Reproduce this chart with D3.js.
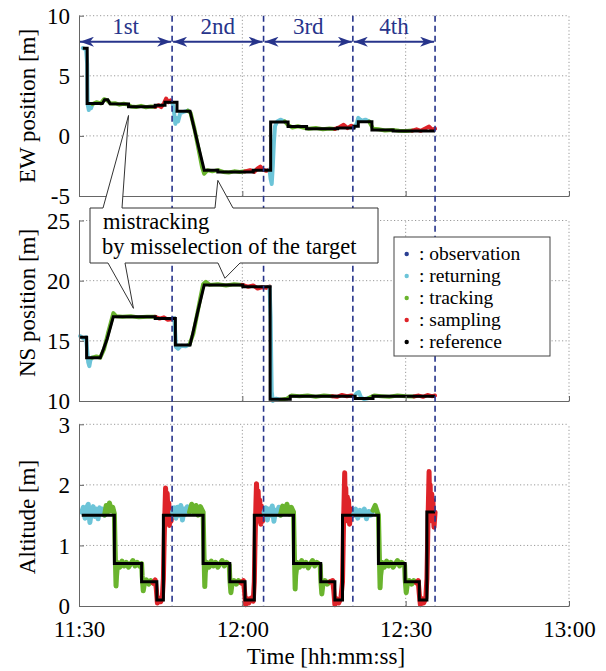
<!DOCTYPE html>
<html>
<head>
<meta charset="utf-8">
<script src="https://cdn.jsdelivr.net/npm/d3@7"></script>
<style>
  body { margin: 0; background: #fff; }
</style>
</head>
<body>
<script>
// time is minutes after 11:30
const xTicks = ["11:30", "12:00", "12:30", "13:00"];
const ewTicks = [-5, 0, 5, 10];
const nsTicks = [10, 15, 20, 25];
const altTicks = [0, 1, 2, 3];

const sessionLabels = ["1st", "2nd", "3rd", "4th"];
const sessionBounds = [0, 17.1, 33.9, 50.3, 65.4];

const legendItems = ["observation", "returning", "tracking", "sampling", "reference"];
const phaseColor = {
  observation: "#2b3f93",
  returning: "#6cc4d8",
  tracking: "#6ab42e",
  sampling: "#de2329",
  reference: "#000000"
};

// reference trajectories
const ewRef = [[0.7,7.3],[1.5,7.3],[1.5,2.7],[4.3,2.7],[4.7,3.0],[5.3,3.0],[5.7,2.68],[9.1,2.65],[9.1,2.42],[14.0,2.42],[14.0,2.55],[15.8,2.55],[15.8,2.8],[18.0,2.8],[18.0,2.06],[20.4,2.06],[23.0,-2.85],[25.5,-2.85],[25.5,-3.0],[32.0,-3.0],[32.0,-2.85],[35.2,-2.85],[35.2,1.15],[38.4,1.15],[38.4,0.78],[41.8,0.78],[41.8,0.6],[47.5,0.6],[47.5,0.65],[50.5,0.65],[50.5,0.8],[51.3,0.8],[51.3,1.17],[53.8,1.17],[53.8,0.5],[57.7,0.5],[57.7,0.4],[65.4,0.4]];
const nsRef = [[0.2,15.3],[1.4,15.3],[1.4,13.6],[3.9,13.6],[5.2,15.2],[6.3,17.0],[14.0,17.0],[14.0,16.85],[17.7,16.85],[17.7,14.65],[20.4,14.65],[21.8,17.4],[23.0,19.65],[30.1,19.65],[30.1,19.5],[35.1,19.5],[35.1,10.15],[38.8,10.15],[38.8,10.4],[50.7,10.4],[50.7,10.2],[54.0,10.2],[54.0,10.4],[65.4,10.4]];
const altRef = [[0.5,1.5],[6.5,1.5],[6.5,0.7],[11.5,0.7],[11.5,0.4],[14.3,0.4],[14.3,0.1],[15.5,0.1],[15.5,1.5],[22.8,1.5],[22.8,0.7],[27.7,0.7],[27.7,0.4],[30.5,0.4],[30.5,0.1],[32.2,0.1],[32.2,1.5],[39.4,1.5],[39.4,0.7],[44.4,0.7],[44.4,0.4],[47.0,0.4],[47.0,0.1],[48.4,0.1],[48.4,1.5],[55.0,1.5],[55.0,0.7],[59.9,0.7],[59.9,0.4],[62.5,0.4],[62.5,0.1],[63.9,0.1],[63.9,1.55],[65.4,1.55]];

// measured point clouds, by phase
const ewClouds = [
  ["returning", [[0.7,7.3],[1.3,7.2],[1.5,6.0],[1.55,4.0],[1.6,2.6],[1.8,2.15],[2.0,2.5],[2.2,2.3],[2.5,2.65]]],
  ["tracking", [[2.5,2.65],[3.2,2.8],[4.0,2.7],[4.6,3.05],[5.2,2.95],[5.8,2.7],[6.6,2.72],[7.4,2.6],[8.2,2.68],[9.0,2.6],[9.6,2.45],[10.5,2.4],[11.4,2.5],[12.3,2.38],[13.2,2.45],[14.0,2.42]]],
  ["sampling", [[14.0,2.42],[14.6,2.55],[15.1,2.4],[15.6,2.7],[16.0,3.1],[16.4,2.8],[16.8,2.95],[17.2,2.7]]],
  ["returning", [[17.2,2.7],[17.5,1.8],[17.7,1.0],[17.9,1.5],[18.2,1.2],[18.6,1.9],[19.2,2.0],[20.0,2.1]]],
  ["tracking", [[20.0,2.1],[20.5,1.9],[21.2,0.6],[22.0,-1.2],[22.6,-2.6],[23.0,-3.15],[23.6,-2.85],[24.5,-2.95],[25.5,-2.85],[26.5,-3.0],[27.5,-3.05],[28.5,-2.95],[29.5,-3.0],[30.5,-2.95]]],
  ["sampling", [[30.5,-2.95],[31.4,-2.85],[32.2,-3.0],[32.8,-2.7],[33.3,-2.55],[33.8,-2.8],[34.4,-2.9],[35.0,-2.8]]],
  ["returning", [[35.0,-2.8],[35.2,-3.6],[35.4,-4.0],[35.6,-2.5],[35.8,-0.5],[36.0,0.8],[36.4,1.2],[37.0,1.35],[37.8,1.2]]],
  ["tracking", [[37.8,1.2],[38.4,0.9],[39.2,0.7],[40.2,0.8],[41.2,0.7],[42.2,0.6],[43.5,0.65],[44.8,0.55],[46.0,0.62],[47.0,0.58]]],
  ["sampling", [[47.0,0.58],[47.8,0.72],[48.6,0.92],[49.3,0.65],[50.0,0.85],[50.5,0.7]]],
  ["returning", [[50.5,0.7],[51.0,1.0],[51.3,1.5],[51.9,1.25],[52.6,1.35],[53.3,1.2]]],
  ["tracking", [[53.3,1.2],[54.0,0.6],[55.0,0.55],[56.2,0.45],[57.5,0.5],[58.8,0.42],[60.0,0.4],[61.2,0.44]]],
  ["sampling", [[61.2,0.44],[62.0,0.55],[62.8,0.42],[63.6,0.62],[64.3,0.78],[64.9,0.5],[65.4,0.6]]]
];
const nsClouds = [
  ["returning", [[0.2,15.4],[0.8,15.2],[1.3,15.3],[1.5,14.2],[1.7,13.2],[1.9,12.9],[2.1,13.4],[2.4,13.6]]],
  ["tracking", [[2.4,13.6],[3.2,13.7],[3.9,13.6],[4.6,14.3],[5.3,15.6],[5.9,16.6],[6.3,17.3],[6.8,17.05],[8.0,17.0],[9.5,17.05],[11.0,16.95],[12.5,17.0],[14.0,17.0]]],
  ["sampling", [[14.0,17.0],[14.8,16.85],[15.6,16.95],[16.3,16.75],[17.0,16.8],[17.5,16.9]]],
  ["returning", [[17.5,16.9],[17.7,15.5],[17.8,14.5],[18.2,14.35],[18.8,14.6],[19.6,14.55],[20.3,14.7]]],
  ["tracking", [[20.3,14.7],[21.0,15.6],[21.7,17.2],[22.3,18.6],[22.8,19.7],[23.3,19.9],[24.0,19.65],[25.5,19.7],[27.0,19.6],[28.5,19.7],[30.0,19.65]]],
  ["sampling", [[30.0,19.65],[31.0,19.5],[32.0,19.6],[32.8,19.35],[33.6,19.45],[34.4,19.4],[35.0,19.5]]],
  ["returning", [[35.0,19.5],[35.2,17.0],[35.3,13.5],[35.4,10.8],[35.6,10.0],[36.2,10.2],[37.0,10.1]]],
  ["tracking", [[37.0,10.1],[38.2,10.2],[39.0,10.45],[40.5,10.4],[42.0,10.45],[43.5,10.35],[45.0,10.45],[46.5,10.4]]],
  ["sampling", [[46.5,10.4],[47.4,10.35],[48.3,10.5],[49.2,10.4],[50.0,10.45],[50.6,10.4]]],
  ["returning", [[50.6,10.4],[51.0,10.65],[51.4,10.75],[51.8,10.3],[52.4,10.15],[53.2,10.25]]],
  ["tracking", [[53.2,10.25],[54.2,10.45],[55.5,10.4],[57.0,10.35],[58.5,10.45],[60.0,10.4],[61.5,10.38]]],
  ["sampling", [[61.5,10.38],[62.4,10.45],[63.2,10.35],[64.0,10.5],[64.8,10.4],[65.4,10.45]]]
];
const altClouds = [
  ["returning", [[0.5,1.55],[0.8,1.63],[1.1,1.45],[1.4,1.62],[1.7,1.68],[2.0,1.38],[2.3,1.58],[2.6,1.64],[2.9,1.48],[3.2,1.6],[3.5,1.44],[3.8,1.62],[4.1,1.53],[4.4,1.6],[4.7,1.5]]],
  ["tracking", [[4.7,1.5],[5.0,1.66],[5.3,1.55],[5.6,1.7],[5.9,1.57],[6.2,1.63],[6.5,1.52],[6.6,1.1],[6.7,0.7],[6.8,0.33],[6.9,0.5],[7.1,0.72],[7.5,0.64],[7.9,0.74],[8.3,0.66],[8.7,0.72],[9.1,0.64],[9.5,0.7],[9.9,0.75],[10.3,0.66],[10.7,0.72],[11.1,0.66],[11.5,0.7],[11.6,0.5],[11.8,0.25],[12.0,0.36],[12.4,0.43],[12.8,0.36],[13.2,0.42],[13.6,0.38]]],
  ["sampling", [[13.6,0.38],[14.0,0.43],[14.2,0.28],[14.4,0.05],[14.7,0.13],[15.0,0.07],[15.3,0.14],[15.5,0.45],[15.6,0.9],[15.7,1.3],[15.8,1.62],[15.9,1.95],[16.1,1.55],[16.2,1.86],[16.4,1.4],[16.5,1.7],[16.6,1.33],[16.8,1.6],[16.9,1.4],[17.2,1.55]]],
  ["returning", [[17.2,1.55],[17.5,1.62],[17.8,1.45],[18.1,1.63],[18.4,1.5],[18.7,1.66],[19.0,1.42],[19.3,1.6],[19.6,1.52],[19.9,1.64],[20.3,1.55]]],
  ["tracking", [[20.3,1.55],[20.7,1.68],[21.1,1.55],[21.5,1.66],[21.9,1.5],[22.3,1.64],[22.8,1.55],[22.9,1.1],[23.0,0.7],[23.1,0.32],[23.2,0.55],[23.5,0.72],[23.9,0.64],[24.3,0.74],[24.7,0.66],[25.1,0.72],[25.5,0.64],[25.9,0.7],[26.3,0.75],[26.7,0.66],[27.1,0.72],[27.6,0.68],[27.7,0.45],[27.9,0.22],[28.1,0.36],[28.5,0.42],[28.9,0.36],[29.3,0.42],[29.8,0.38]]],
  ["sampling", [[29.8,0.38],[30.2,0.42],[30.4,0.25],[30.6,0.02],[30.9,0.12],[31.2,0.05],[31.6,0.13],[32.0,0.08],[32.2,0.4],[32.3,0.9],[32.4,1.3],[32.5,1.7],[32.6,2.02],[32.8,1.6],[32.9,1.9],[33.1,1.4],[33.2,1.75],[33.4,1.35],[33.5,1.65],[33.7,1.4],[34.0,1.55]]],
  ["returning", [[34.0,1.55],[34.3,1.62],[34.6,1.42],[34.9,1.6],[35.2,1.5],[35.5,1.65],[35.8,1.4],[36.1,1.58],[36.4,1.52],[36.7,1.63],[37.0,1.5]]],
  ["tracking", [[37.0,1.5],[37.4,1.65],[37.8,1.55],[38.2,1.68],[38.6,1.52],[39.0,1.63],[39.4,1.55],[39.5,1.1],[39.6,0.7],[39.7,0.28],[39.8,0.5],[40.1,0.72],[40.5,0.64],[40.9,0.75],[41.3,0.66],[41.7,0.72],[42.1,0.63],[42.5,0.7],[42.9,0.75],[43.3,0.66],[43.7,0.72],[44.3,0.68],[44.4,0.45],[44.6,0.2],[44.8,0.36],[45.2,0.42],[45.6,0.36],[46.1,0.4]]],
  ["sampling", [[46.1,0.4],[46.6,0.42],[46.8,0.25],[47.0,0.02],[47.3,0.12],[47.7,0.05],[48.1,0.13],[48.4,0.4],[48.5,0.9],[48.6,1.4],[48.7,1.8],[48.8,2.2],[48.9,1.7],[49.0,1.95],[49.1,1.5],[49.3,1.8],[49.4,1.4],[49.5,1.75],[49.7,1.35],[50.0,1.6],[50.4,1.5]]],
  ["returning", [[50.4,1.5],[50.8,1.6],[51.2,1.45],[51.6,1.58],[52.0,1.5],[52.4,1.6],[52.8,1.44],[53.2,1.56],[53.6,1.5],[54.0,1.58]]],
  ["tracking", [[54.0,1.58],[54.4,1.66],[54.8,1.55],[55.0,1.5],[55.1,1.1],[55.2,0.7],[55.3,0.3],[55.4,0.5],[55.7,0.72],[56.1,0.64],[56.5,0.74],[56.9,0.66],[57.3,0.72],[57.7,0.64],[58.1,0.7],[58.5,0.75],[58.9,0.66],[59.3,0.72],[59.8,0.68],[59.9,0.45],[60.1,0.22],[60.3,0.36],[60.7,0.42],[61.1,0.36],[61.5,0.42],[62.0,0.38]]],
  ["sampling", [[62.0,0.38],[62.3,0.42],[62.5,0.2],[62.7,0.02],[63.0,0.12],[63.3,0.05],[63.7,0.13],[63.9,0.45],[64.0,0.9],[64.1,1.4],[64.2,1.8],[64.3,2.22],[64.4,1.7],[64.5,2.0],[64.6,1.5],[64.8,1.85],[64.9,1.4],[65.0,1.75],[65.2,1.3],[65.4,1.55]]]
];

const width = 606, height = 671;
const left = 79, right = 569;
const navy = "#27348b";
const axisColor = "#666";
const fontSize = 23;
const serif = "'Liberation Serif', 'Times New Roman', 'DejaVu Serif', serif";

const svg = d3.select("body").append("svg")
  .attr("width", width)
  .attr("height", height)
  .attr("font-family", serif);

const day = "2000-01-01T";
const t0 = new Date(day + xTicks[0] + ":00");
const toDate = (m) => new Date(t0.getTime() + m * 60000);
const x = d3.scaleTime()
  .domain([t0, new Date(day + xTicks[xTicks.length - 1] + ":00")])
  .range([left, right]);
const xm = (m) => x(toDate(m));
const xTickDates = xTicks.map((s) => new Date(day + s + ":00"));

const panels = [
  { label: "EW position [m]", ticks: ewTicks, px: [196, 15.7], ref: ewRef, clouds: ewClouds, labelY: 106, cloudW: 4 },
  { label: "NS position [m]", ticks: nsTicks, px: [401, 220.5], ref: nsRef, clouds: nsClouds, labelY: 303, cloudW: 4 },
  { label: "Altitude [m]", ticks: altTicks, px: [606, 424.3], ref: altRef, clouds: altClouds, labelY: 517, cloudW: 5 }
];

panels.forEach((p, i) => {
  p.y = d3.scaleLinear().domain(d3.extent(p.ticks)).range(p.px);
  const g = svg.append("g");

  // dotted grid
  g.selectAll(".hgrid")
    .data(p.ticks.slice(1))
    .join("line")
    .attr("x1", left).attr("x2", right)
    .attr("y1", (d) => p.y(d)).attr("y2", (d) => p.y(d))
    .attr("stroke", "#9a9a9a")
    .attr("stroke-dasharray", "1.2,2.3");
  g.selectAll(".vgrid")
    .data(xTickDates.slice(1))
    .join("line")
    .attr("x1", (d) => x(d)).attr("x2", (d) => x(d))
    .attr("y1", p.px[0]).attr("y2", p.px[1])
    .attr("stroke", "#9a9a9a")
    .attr("stroke-dasharray", "1.2,2.3");

  const line = d3.line().x((d) => xm(d[0])).y((d) => p.y(d[1]));

  g.selectAll(".cloud")
    .data(p.clouds)
    .join("path")
    .attr("d", (d) => line(d[1]))
    .attr("fill", "none")
    .attr("stroke", (d) => phaseColor[d[0]])
    .attr("stroke-width", p.cloudW)
    .attr("stroke-linejoin", "round")
    .attr("stroke-linecap", "round");

  g.append("path")
    .attr("d", line(p.ref))
    .attr("fill", "none")
    .attr("stroke", phaseColor.reference)
    .attr("stroke-width", 3)
    .attr("stroke-linejoin", "miter");

  // axes with inward ticks
  const ay = g.append("g")
    .attr("transform", `translate(${left},0)`)
    .call(d3.axisLeft(p.y).tickValues(p.ticks).tickFormat((d) => String(d))
      .tickSizeInner(-5).tickSizeOuter(0).tickPadding(9));
  const ax = g.append("g")
    .attr("transform", `translate(0,${p.px[0]})`)
    .call(d3.axisBottom(x).tickValues(xTickDates).tickSizeInner(-5).tickSizeOuter(0).tickPadding(15)
      .tickFormat(i === 2 ? d3.timeFormat("%H:%M") : () => ""));
  [ay, ax].forEach((a) => {
    a.attr("font-family", serif).attr("font-size", fontSize);
    a.selectAll("path, line").attr("stroke", axisColor);
    a.selectAll("text").attr("fill", "#000");
  });
  ay.selectAll("text").attr("dy", "0.34em");

  svg.append("text")
    .attr("transform", `translate(35,${p.labelY}) rotate(-90)`)
    .attr("text-anchor", "middle")
    .attr("font-size", fontSize)
    .text(p.label);
});

// session boundaries
svg.selectAll(".session")
  .data(sessionBounds.slice(1))
  .join("line")
  .attr("x1", (d) => xm(d)).attr("x2", (d) => xm(d))
  .attr("y1", panels[0].px[1]).attr("y2", panels[2].px[0])
  .attr("stroke", navy)
  .attr("stroke-width", 1.6)
  .attr("stroke-dasharray", "6,4");

svg.append("defs").append("marker")
  .attr("id", "head")
  .attr("markerUnits", "userSpaceOnUse")
  .attr("viewBox", "0 0 14 10")
  .attr("refX", 14).attr("refY", 5)
  .attr("markerWidth", 14).attr("markerHeight", 10)
  .attr("orient", "auto-start-reverse")
  .append("path")
  .attr("d", "M0,0 L14,5 L0,10 L4,5 Z")
  .attr("fill", navy);

const arrowY = 41.7;
const spans = sessionLabels.map((s, i) => ({ label: s, a: sessionBounds[i], b: sessionBounds[i + 1] }));
svg.selectAll(".span")
  .data(spans)
  .join("line")
  .attr("x1", (d) => xm(d.a) + 1).attr("x2", (d) => xm(d.b) - 1)
  .attr("y1", arrowY).attr("y2", arrowY)
  .attr("stroke", navy)
  .attr("stroke-width", 2)
  .attr("marker-start", "url(#head)")
  .attr("marker-end", "url(#head)");
svg.selectAll(".spanlabel")
  .data(spans)
  .join("text")
  .attr("x", (d) => (xm(d.a) + xm(d.b)) / 2)
  .attr("y", 34)
  .attr("text-anchor", "middle")
  .attr("font-size", fontSize)
  .attr("fill", navy)
  .text((d) => d.label);

// callout
const yEW = panels[0].y, yNS = panels[1].y;
const bx0 = 90, bx1 = 378, by0 = 208, by1 = 263;
const callout = [
  [bx0, by0], [103, by0], [xm(9.1), yEW(1.7)], [122, by0],
  [215, by0], [xm(25.5), yEW(-3.7)], [233, by0],
  [bx1, by0], [bx1, by1],
  [240, by1], [xm(26.8), yNS(20.2)], [218, by1],
  [125, by1], [xm(10), yNS(17.7)], [108, by1],
  [bx0, by1]
];
svg.append("path")
  .attr("d", d3.line()(callout) + "Z")
  .attr("fill", "#fff")
  .attr("stroke", "#333")
  .attr("stroke-width", 1);
svg.append("text").attr("x", 103).attr("y", 229).attr("font-size", 22.5).text("mistracking");
svg.append("text").attr("x", 102).attr("y", 254).attr("font-size", 22.5).text("by misselection of the target");

// legend
const lg = svg.append("g");
lg.append("rect")
  .attr("x", 394).attr("y", 237)
  .attr("width", 156).attr("height", 119)
  .attr("fill", "#fff")
  .attr("stroke", "#444");
const rows = lg.selectAll(".row")
  .data(legendItems)
  .join("g")
  .attr("transform", (d, i) => `translate(0,${260 + i * 22})`);
rows.append("circle")
  .attr("cx", 406.7).attr("cy", -6).attr("r", 2.2)
  .attr("fill", (d) => phaseColor[d]);
rows.append("text")
  .attr("x", 419).attr("y", 0)
  .attr("font-size", 19.5)
  .text((d) => ": " + d);

svg.append("text")
  .attr("x", 326).attr("y", 664)
  .attr("text-anchor", "middle")
  .attr("font-size", fontSize)
  .text("Time [hh:mm:ss]");
</script>
</body>
</html>
